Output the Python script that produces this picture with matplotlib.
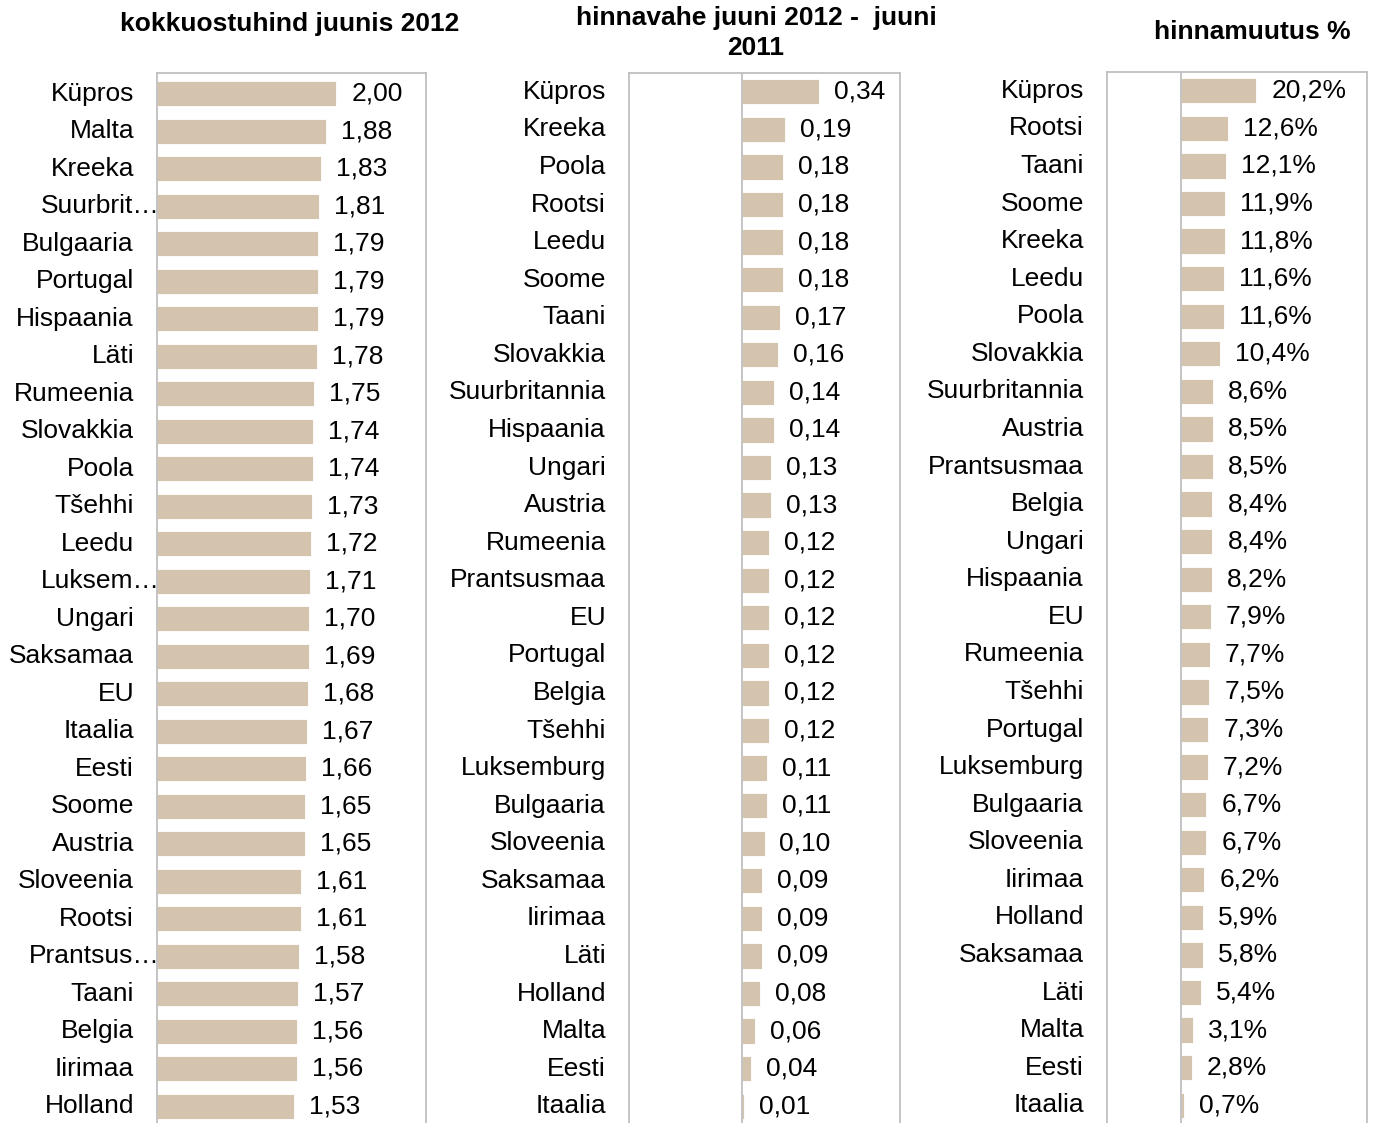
import matplotlib.pyplot as plt

plt.rcParams["font.family"] = ["Liberation Sans", "DejaVu Sans"]

BAR_COLOR = "#D5C4AD"
FRAME_COLOR = "#BFBFBF"
LABEL_SIZE = 19
TITLE_SIZE = 19

# kokkuostuhind juunis 2012
price_labels = ["Küpros", "Malta", "Kreeka", "Suurbrit…", "Bulgaaria", "Portugal",
                "Hispaania", "Läti", "Rumeenia", "Slovakkia", "Poola", "Tšehhi",
                "Leedu", "Luksem…", "Ungari", "Saksamaa", "EU", "Itaalia", "Eesti",
                "Soome", "Austria", "Sloveenia", "Rootsi", "Prantsus…", "Taani",
                "Belgia", "Iirimaa", "Holland"]
price_values = [2.00, 1.88, 1.83, 1.81, 1.79, 1.79, 1.79, 1.78, 1.75, 1.74, 1.74,
                1.73, 1.72, 1.71, 1.70, 1.69, 1.68, 1.67, 1.66, 1.65, 1.65, 1.61,
                1.61, 1.58, 1.57, 1.56, 1.56, 1.53]

# hinnavahe juuni 2012 - juuni 2011
diff_labels = ["Küpros", "Kreeka", "Poola", "Rootsi", "Leedu", "Soome", "Taani",
               "Slovakkia", "Suurbritannia", "Hispaania", "Ungari", "Austria",
               "Rumeenia", "Prantsusmaa", "EU", "Portugal", "Belgia", "Tšehhi",
               "Luksemburg", "Bulgaaria", "Sloveenia", "Saksamaa", "Iirimaa", "Läti",
               "Holland", "Malta", "Eesti", "Itaalia"]
diff_values = [0.34, 0.19, 0.18, 0.18, 0.18, 0.18, 0.17, 0.16, 0.14, 0.14, 0.13,
               0.13, 0.12, 0.12, 0.12, 0.12, 0.12, 0.12, 0.11, 0.11, 0.10, 0.09,
               0.09, 0.09, 0.08, 0.06, 0.04, 0.01]

# hinnamuutus %
change_labels = ["Küpros", "Rootsi", "Taani", "Soome", "Kreeka", "Leedu", "Poola",
                 "Slovakkia", "Suurbritannia", "Austria", "Prantsusmaa", "Belgia",
                 "Ungari", "Hispaania", "EU", "Rumeenia", "Tšehhi", "Portugal",
                 "Luksemburg", "Bulgaaria", "Sloveenia", "Iirimaa", "Holland",
                 "Saksamaa", "Läti", "Malta", "Eesti", "Itaalia"]
change_values = [20.2, 12.6, 12.1, 11.9, 11.8, 11.6, 11.6, 10.4, 8.6, 8.5, 8.5, 8.4,
                 8.4, 8.2, 7.9, 7.7, 7.5, 7.3, 7.2, 6.7, 6.7, 6.2, 5.9, 5.8, 5.4,
                 3.1, 2.8, 0.7]

W, H = 1374, 1123
fig = plt.figure(figsize=(W / 100, H / 100), dpi=100)


def px_axes(left, right, top, bottom):
    return fig.add_axes([left / W, 1 - bottom / H, (right - left) / W, (bottom - top) / H])


def draw_panel(ax, labels, values, xlim, fmt, zero_line, top_pad=0.5):
    ys = range(len(values))
    ax.barh(ys, values, height=0.67, color=BAR_COLOR, edgecolor="white", linewidth=0.6)
    ax.set_xlim(*xlim)
    ax.set_ylim(len(values) - 0.5, -top_pad)
    ax.set_xticks([])
    ax.set_yticks([])
    for side in ["top", "left", "right"]:
        ax.spines[side].set_color(FRAME_COLOR)
        ax.spines[side].set_linewidth(1.3)
    ax.spines["bottom"].set_visible(False)
    if zero_line:
        ax.axvline(0, color=FRAME_COLOR, linewidth=1.3)
    ytrans = ax.get_yaxis_transform()
    for y, lab, v in zip(ys, labels, values):
        # Excel cuts long names and lets them run into the frame
        dx = 3 if lab.endswith("…") else -23
        ax.annotate(lab, (0, y), xycoords=ytrans, xytext=(dx, 0),
                    textcoords="offset pixels", ha="right", va="center",
                    fontsize=LABEL_SIZE, annotation_clip=False)
        ax.annotate(fmt(v), (v, y), xytext=(15, 0), textcoords="offset pixels",
                    ha="left", va="center", fontsize=LABEL_SIZE, annotation_clip=False)


ax1 = px_axes(157, 426, 73, 1125)
draw_panel(ax1, price_labels, price_values, (0, 3.0),
           lambda v: f"{v:.2f}".replace(".", ","), False, top_pad=0.55)

ax2 = px_axes(629, 900, 73, 1125)
draw_panel(ax2, diff_labels, diff_values, (-0.5, 0.7),
           lambda v: f"{v:.2f}".replace(".", ","), True)

ax3 = px_axes(1107, 1367, 72, 1124)
draw_panel(ax3, change_labels, change_values, (-20, 50),
           lambda v: f"{v:.1f}%".replace(".", ","), True)

fig.text(290 / W, 1 - 24 / H, "kokkuostuhind juunis 2012", ha="center", va="center",
         fontsize=TITLE_SIZE, fontweight="bold")
fig.text(756 / W, 1 - 33 / H, "hinnavahe juuni 2012 -  juuni\n2011", ha="center",
         va="center", fontsize=TITLE_SIZE, fontweight="bold", linespacing=1.27)
fig.text(1252 / W, 1 - 32 / H, "hinnamuutus %", ha="center", va="center",
         fontsize=TITLE_SIZE, fontweight="bold")

fig.savefig("out.png", dpi=100)
